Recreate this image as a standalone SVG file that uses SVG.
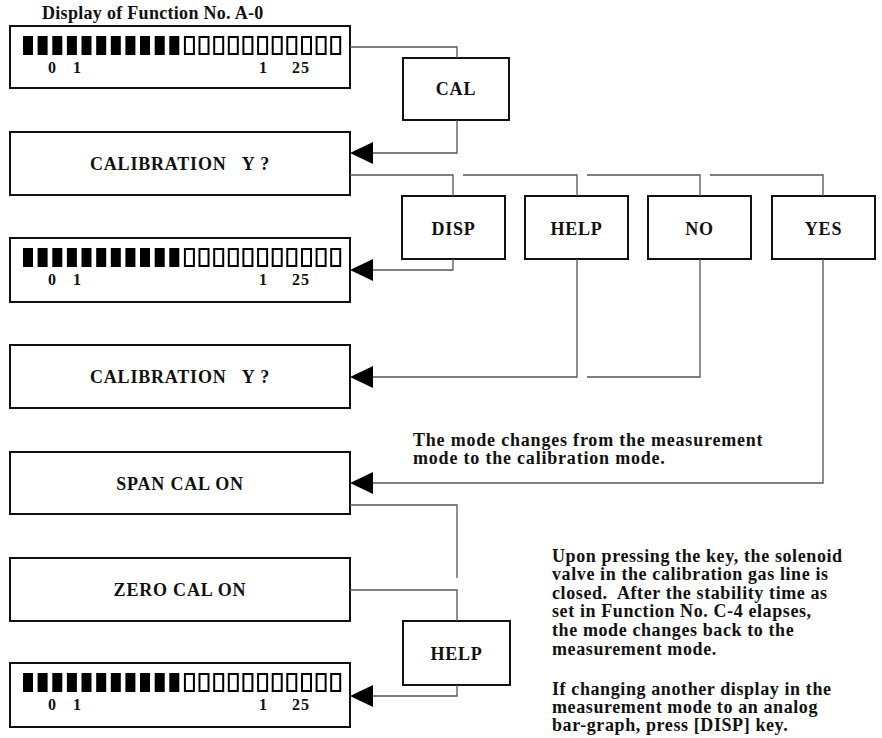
<svg xmlns="http://www.w3.org/2000/svg" width="882" height="738" viewBox="0 0 882 738">
<style>
  .bx{fill:#fff;stroke:#111;stroke-width:2}
  .t{font-family:"Liberation Serif","Times New Roman",serif;font-weight:bold;font-size:18px;letter-spacing:0.8px;fill:#111}
  .ttl{letter-spacing:0.3px}
  .nt{letter-spacing:0.6px}
  .lb{text-anchor:middle}
  .n{font-family:"Liberation Serif","Times New Roman",serif;font-weight:bold;font-size:16px;letter-spacing:1px;fill:#111}
  .c{fill:none;stroke:#555;stroke-width:1.3}
  .fb{fill:#000}
  .ob{fill:#fff;stroke:#000;stroke-width:2}
</style>
<defs>
  <g id="bars">
    <rect class="fb" x="23" y="10" width="10" height="19"/>
    <rect class="fb" x="37.6" y="10" width="10" height="19"/>
    <rect class="fb" x="52.3" y="10" width="10" height="19"/>
    <rect class="fb" x="66.9" y="10" width="10" height="19"/>
    <rect class="fb" x="81.5" y="10" width="10" height="19"/>
    <rect class="fb" x="96.2" y="10" width="10" height="19"/>
    <rect class="fb" x="110.8" y="10" width="10" height="19"/>
    <rect class="fb" x="125.4" y="10" width="10" height="19"/>
    <rect class="fb" x="140" y="10" width="10" height="19"/>
    <rect class="fb" x="154.7" y="10" width="10" height="19"/>
    <rect class="fb" x="169.3" y="10" width="10" height="19"/>
    <rect class="ob" x="184.9" y="11" width="9" height="17"/>
    <rect class="ob" x="199.5" y="11" width="9" height="17"/>
    <rect class="ob" x="214.2" y="11" width="9" height="17"/>
    <rect class="ob" x="228.8" y="11" width="9" height="17"/>
    <rect class="ob" x="243.4" y="11" width="9" height="17"/>
    <rect class="ob" x="258.1" y="11" width="9" height="17"/>
    <rect class="ob" x="272.7" y="11" width="9" height="17"/>
    <rect class="ob" x="287.3" y="11" width="9" height="17"/>
    <rect class="ob" x="302" y="11" width="9" height="17"/>
    <rect class="ob" x="316.6" y="11" width="9" height="17"/>
    <rect class="ob" x="331.2" y="11" width="9" height="17"/>
    <text class="n" x="48" y="47">0</text>
    <text class="n" x="73" y="47">1</text>
    <text class="n" x="259" y="47">1</text>
    <text class="n" x="292" y="47">25</text>
  </g>
  <polygon id="ah" points="0,0 23,-11 23,11" fill="#000"/>
</defs>

<text class="t ttl" x="42" y="19">Display of Function No. A-0</text>

<g id="display1">
  <rect class="bx" x="10" y="26" width="340" height="62"/>
  <use href="#bars" x="0" y="26"/>
</g>
<g id="cal">
  <rect class="bx" x="403" y="58" width="106" height="62"/>
  <text class="t lb" x="456" y="95">CAL</text>
</g>
<g id="calibration1">
  <rect class="bx" x="10" y="132" width="340" height="63"/>
  <text class="t lb" x="180" y="170" xml:space="preserve">CALIBRATION   Y ?</text>
</g>
<g id="disp">
  <rect class="bx" x="402" y="196" width="103" height="63"/>
  <text class="t lb" x="453.5" y="235">DISP</text>
</g>
<g id="help1">
  <rect class="bx" x="525" y="196" width="103" height="63"/>
  <text class="t lb" x="576.5" y="235">HELP</text>
</g>
<g id="no">
  <rect class="bx" x="648" y="196" width="103" height="63"/>
  <text class="t lb" x="699.5" y="235">NO</text>
</g>
<g id="yes">
  <rect class="bx" x="772" y="196" width="103" height="63"/>
  <text class="t lb" x="823.5" y="235">YES</text>
</g>
<g id="display2">
  <rect class="bx" x="10" y="238" width="340" height="64"/>
  <use href="#bars" x="0" y="238"/>
</g>
<g id="calibration2">
  <rect class="bx" x="10" y="345" width="340" height="63"/>
  <text class="t lb" x="180" y="383" xml:space="preserve">CALIBRATION   Y ?</text>
</g>
<g id="note1">
  <text class="t" x="413" y="446">The mode changes from the measurement</text>
  <text class="t" x="413" y="464">mode to the calibration mode.</text>
</g>
<g id="spancal">
  <rect class="bx" x="10" y="452" width="340" height="62"/>
  <text class="t lb" x="180" y="490">SPAN CAL ON</text>
</g>
<g id="zerocal">
  <rect class="bx" x="10" y="558" width="340" height="63"/>
  <text class="t lb" x="180" y="596">ZERO CAL ON</text>
</g>
<g id="help2">
  <rect class="bx" x="403" y="621" width="107" height="64"/>
  <text class="t lb" x="456.5" y="660">HELP</text>
</g>
<g id="display3">
  <rect class="bx" x="10" y="663" width="340" height="64"/>
  <use href="#bars" x="0" y="663"/>
</g>
<g id="note2">
  <text class="t nt" x="552" y="562">Upon pressing the key, the solenoid</text>
  <text class="t nt" x="552" y="580">valve in the calibration gas line is</text>
  <text class="t nt" x="552" y="599" xml:space="preserve">closed.  After the stability time as</text>
  <text class="t nt" x="552" y="617">set in Function No. C-4 elapses,</text>
  <text class="t nt" x="552" y="636">the mode changes back to the</text>
  <text class="t nt" x="552" y="655">measurement mode.</text>
  <text class="t nt" x="552" y="695">If changing another display in the</text>
  <text class="t nt" x="552" y="713">measurement mode to an analog</text>
  <text class="t nt" x="552" y="731">bar-graph, press [DISP] key.</text>
</g>

<g id="connectors">
  <polyline class="c" points="350,47 457,47 457,58"/>
  <polyline class="c" points="457,120 457,153 373,153"/>
  <use href="#ah" x="350" y="153"/>
  <polyline class="c" points="350,175 453,175 453,196"/>
  <polyline class="c" points="463,175 577,175 577,196"/>
  <polyline class="c" points="587,175 700,175 700,196"/>
  <polyline class="c" points="710,175 823,175 823,196"/>
  <polyline class="c" points="453,259 453,270 373,270"/>
  <use href="#ah" x="350" y="270"/>
  <polyline class="c" points="577,259 577,377 373,377"/>
  <use href="#ah" x="350" y="377"/>
  <polyline class="c" points="700,259 700,377 587,377"/>
  <polyline class="c" points="823,259 823,483 373,483"/>
  <use href="#ah" x="350" y="483"/>
  <polyline class="c" points="350,505 457,505 457,578"/>
  <polyline class="c" points="350,590 457,590 457,621"/>
  <polyline class="c" points="457,685 457,696 373,696"/>
  <use href="#ah" x="350" y="696"/>
</g>
</svg>
